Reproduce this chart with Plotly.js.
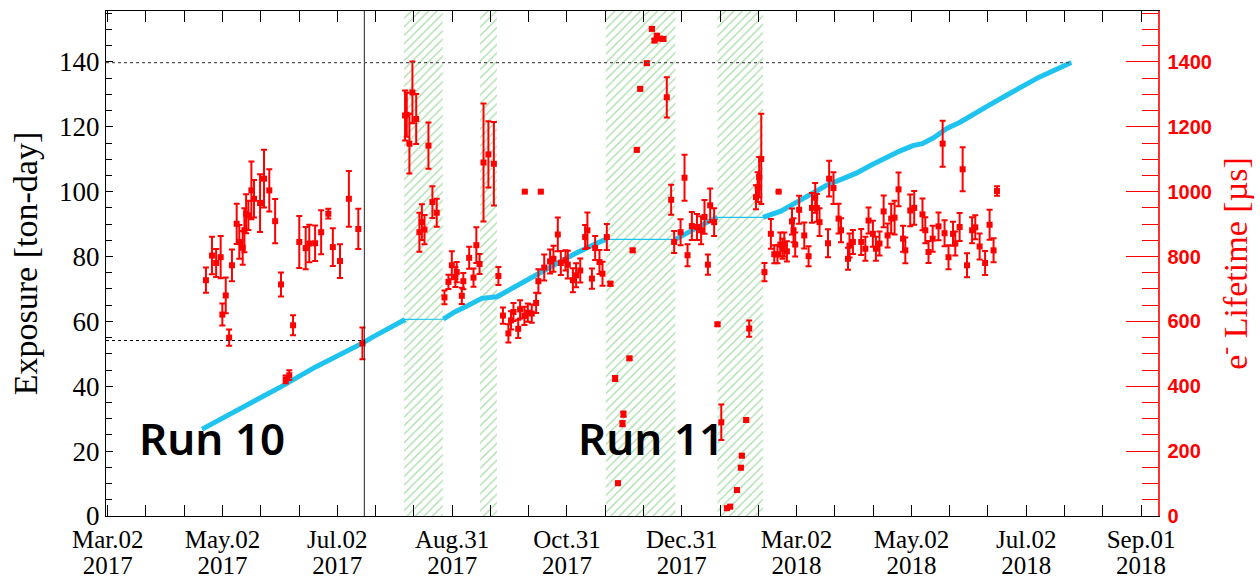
<!DOCTYPE html>
<html>
<head>
<meta charset="utf-8">
<script src="https://cdn.plot.ly/plotly-3.0.1.min.js"></script>
<style>
  html, body { margin: 0; padding: 0; background: #fff; }
  #chart { width: 1260px; height: 583px; }
</style>
</head>
<body>
<div id="chart"></div>
<script>
// Day numbers are counted from 2017-03-02 (day 0).
const ORIGIN_UTC = Date.UTC(2017, 2, 2);

// Time-axis labels: date line and year line, one tick every 548/9 days.
const xTickDates = ["Mar.02", "May.02", "Jul.02", "Aug.31", "Oct.31", "Dec.31", "Mar.02", "May.02", "Jul.02", "Sep.01"];
const xTickYears = ["2017", "2017", "2017", "2017", "2017", "2017", "2018", "2018", "2018", "2018"];
const xTickStepDays = 548 / 9;
const xRangeDays = [-0.9, 557.0];

// Periods with degraded purity (hatched bands), [start, end] day numbers.
const bandStart = [157.2, 197.5, 264.2, 323.4];
const bandEnd   = [177.7, 206.4, 301.1, 347.5];

// Run boundary and exposure reference levels.
const runBoundaryDay = 136.1;
const run10Exposure = 54.1;
const totalExposure = 139.8;
const finalExposureDay = 511.0;

// Cumulative exposure [ton-day].
const expDay = [
  50.1, 56, 62, 68, 74, 80, 86, 92, 98, 104, 110, 116, 122, 128, 135.1, 140, 146, 152, 157.7,
  178.0, 184, 190, 195, 198.4,
  206.5, 212, 218, 224, 230, 236, 242, 248, 254, 259, 264.2,
  301.1, 306, 311, 317, 323.4,
  347.5, 357, 365, 374, 381, 390, 397, 405, 413, 420, 427, 432, 438, 445, 452, 458, 463,
  470, 476, 481, 488, 494, 500, 505, 511
];
const expVal = [
  26.8, 28.6, 30.5, 32.4, 34.3, 36.1, 38.0, 39.9, 41.9, 44.0, 45.9, 47.6, 49.3, 51.2, 53.3, 55.0, 57.0, 58.6, 60.6,
  60.7, 62.9, 64.6, 66.3, 67.1,
  67.6, 69.4, 71.6, 73.5, 75.5, 77.3, 79.1, 80.9, 82.7, 84.0, 85.3,
  85.3, 86.9, 88.6, 90.3, 92.1,
  92.1, 94.0, 96.6, 99.5, 101.9, 104.0, 105.7, 108.2, 110.6, 112.5, 114.2, 114.8, 116.6, 119.5, 121.4, 123.3, 125.2,
  127.5, 129.5, 131.3, 133.4, 135.3, 137.0, 138.3, 139.8
];

// Electron lifetime [us] and its uncertainty.
const ltDay = [
  52.1, 55.3, 57.5, 59.9, 60.8, 62.6, 64.4, 65.9, 68.4, 69.8, 71.6, 72.5, 73.4, 74.6, 76.2, 77.6, 80.8, 82.9, 85.7, 88.8,
  91.9, 94.4, 96.3, 98.3, 101.6, 105.0, 106.9, 110.0, 113.2, 117.0, 119.4, 123.2, 127.9, 132.9, 135.1,
  157.7, 158.6, 160.0, 161.6, 163.6, 170.1, 165.3, 166.6, 168.0, 172.2, 174.5,
  178.6, 180.7, 182.5, 184.4, 185.1, 187.8, 188.6, 191.7, 194.0, 195.5, 197.2,
  199.3, 201.9, 204.8,
  207.2, 209.6, 212.5, 213.9, 215.2, 217.7, 218.7, 221.0, 222.8, 224.9, 227.2, 228.4, 221.2, 229.7,
  231.5, 234.6, 236.4, 238.7, 240.3, 242.8, 244.0, 246.7, 248.4, 250.6, 253.2, 254.4, 256.8, 258.5, 260.8, 262.4, 264.7,
  266.6, 269.1, 270.6, 273.0, 273.5, 276.7, 278.4, 280.6, 282.4, 285.9, 288.6, 290.0, 291.2, 293.0, 294.7, 296.5, 298.8, 300.4,
  303.8, 305.9, 307.5, 309.8, 312.5, 314.7, 316.5, 318.3, 319.5, 321.6,
  323.4, 325.4, 328.4, 330.1, 333.7, 335.8, 336.3, 338.6, 340.2, 343.8, 344.7, 345.5, 346.6,
  348.3, 351.7, 353.5, 355.2, 355.8, 356.7, 357.9, 358.8, 360.2, 362.9, 363.7, 364.6, 366.7, 369.4, 371.7, 373.5, 375.2,
  376.1, 377.5, 382.0, 382.6, 384.9, 387.6, 388.9, 392.6, 393.4, 395.2, 399.6, 401.8, 403.5, 405.8, 407.4, 409.3, 411.5,
  413.6, 415.5, 417.3, 419.4, 421.8, 423.0, 425.6, 427.7, 432.1, 433.6, 435.3, 437.5, 440.6, 442.8, 443.8, 445.9, 448.3,
  449.5, 451.8, 453.4, 455.7, 458.4, 460.1, 462.4, 465.3, 467.7, 469.8, 471.6
];
const ltVal = [
  727, 803, 780, 798, 621, 680, 550, 773, 901, 845, 827, 881, 932, 927, 1004, 978, 965, 1040, 1004, 909,
  714, 421, 434, 588, 845, 826, 840, 841, 875, 932, 829, 786, 978, 885, 532,
  1235, 1237, 1148, 1306, 1224, 1142, 875, 906, 883, 968, 935,
  674, 722, 773, 737, 752, 679, 724, 796, 735, 835, 777,
  1090, 1115, 1086,
  740, 618, 563, 603, 629, 577, 637, 617, 627, 624, 657, 724, 1000, 1000,
  766, 785, 793, 868, 780, 788, 775, 727, 742, 757, 860, 881, 732, 826, 783, 747, 860,
  716, 424, 101, 285, 314, 486, 819, 1129, 1317, 1396, 1502, 1466, 1481, 1472, 1471, 1291, 975, 845,
  875, 1043, 804, 894, 891, 881, 922, 775, 958, 906,
  591, 289, 24, 29, 80, 149, 186, 296, 578, 983, 1014, 1045, 1101,
  752, 870, 807, 807, 1000, 837, 824, 837, 816, 908, 881, 837, 944, 865, 801, 950, 981,
  950, 906, 841, 1040, 1011, 917, 881, 793, 834, 845, 845, 824, 911, 870, 824, 840, 939,
  865, 917, 920, 1007, 855, 819, 942, 950, 930, 881, 814, 855, 893, 1148, 872, 798, 870,
  840, 891, 1069, 773, 881, 890, 831, 780, 898, 819, 1002
];
const ltErr = [
  39, 58, 43, 65, 34, 55, 25, 49, 62, 52, 52, 68, 60, 45, 89, 58, 89, 89, 65, 68,
  37, 12, 15, 31, 80, 65, 58, 55, 68, 15, 58, 52, 86, 62, 49,
  77, 68, 92, 95, 77, 71, 60, 55, 45, 49, 43,
  21, 22, 43, 31, 31, 25, 25, 34, 28, 55, 31,
  182, 102, 129,
  28, 25, 28, 28, 28, 28, 28, 28, 28, 28, 31, 37, 0, 0,
  40, 37, 40, 52, 37, 31, 43, 37, 37, 37, 37, 55, 31, 37, 37, 37, 40,
  6, 8, 5, 8, 8, 5, 5, 5, 5, 5, 5, 5, 5, 5, 5, 62, 46, 34,
  40, 71, 34, 43, 40, 43, 52, 31, 52, 43,
  5, 55, 5, 5, 5, 5, 5, 5, 25, 37, 46, 62, 139,
  28, 46, 28, 28, 0, 37, 31, 37, 31, 40, 37, 37, 43, 40, 31, 46, 46,
  43, 43, 43, 55, 49, 46, 37, 34, 37, 37, 40, 37, 40, 40, 37, 37, 49,
  37, 46, 52, 52, 40, 40, 49, 52, 49, 40, 34, 40, 43, 71, 40, 37, 37,
  37, 43, 68, 37, 40, 37, 40, 37, 46, 37, 15
];

// Text labels placed inside the frame.
const runLabels = ["Run 10", "Run 11"];
const runLabelPos = [[0.1008, 0.1545], [0.518, 0.1545]];

function toDate(d) {
  return new Date(ORIGIN_UTC + d * 86400000).toISOString().replace("T", " ").replace("Z", "");
}

// Thick exposure band: break the stroke where data taking paused.
const thickX = [], thickY = [];
for (let i = 0; i < expDay.length; i++) {
  if (i > 0 && expDay[i] - expDay[i - 1] > 10) { thickX.push(null); thickY.push(null); }
  thickX.push(toDate(expDay[i])); thickY.push(expVal[i]);
}

const majorTicks = xTickDates.map((_, k) => toDate(k * xTickStepDays));
const minorTicks = [];
for (let k = -1; k <= 9; k++) {
  for (let j = 1; j <= 2; j++) {
    const d = (k + j / 3) * xTickStepDays;
    if (d >= xRangeDays[0] && d <= xRangeDays[1]) minorTicks.push(toDate(d));
  }
}
const xRange = [toDate(xRangeDays[0]), toDate(xRangeDays[1])];

const SERIF = "Liberation Serif, Times New Roman, serif";

const traces = [
  {
    type: "bar",
    x: bandStart.map((s, i) => toDate((s + bandEnd[i]) / 2)),
    width: bandStart.map((s, i) => (bandEnd[i] - s) * 86400000),
    y: bandStart.map(() => 200),
    base: 0,
    marker: {
      color: "rgba(0,0,0,0)",
      line: { width: 0 },
      pattern: { shape: "/", fgcolor: "#49b849", bgcolor: "rgba(255,255,255,0)", size: 6, solidity: 0.2, fillmode: "overlay" }
    },
    hoverinfo: "skip",
    showlegend: false
  },
  {
    type: "scatter", mode: "lines",
    x: expDay.map(toDate), y: expVal,
    line: { color: "#1ec4ef", width: 1.2 },
    hoverinfo: "skip", showlegend: false
  },
  {
    type: "scatter", mode: "lines",
    x: thickX, y: thickY, connectgaps: false,
    line: { color: "#1ec4ef", width: 5 },
    showlegend: false
  },
  {
    type: "scatter", mode: "markers",
    x: ltDay.map(toDate), y: ltVal, yaxis: "y2",
    marker: { symbol: "square", size: 6, color: "#ff0000" },
    error_y: { type: "data", array: ltErr, visible: true, color: "#ff0000", thickness: 2, width: 3 },
    showlegend: false
  },
  // carries the year row of the time axis
  { type: "scatter", mode: "markers", x: [], y: [], xaxis: "x2", showlegend: false, hoverinfo: "skip" }
];

const layout = {
  width: 1260, height: 583,
  margin: { l: 106, r: 102, t: 11, b: 67 },
  paper_bgcolor: "#ffffff", plot_bgcolor: "#ffffff",
  showlegend: false,
  barmode: "overlay",
  font: { family: SERIF, color: "#000" },
  xaxis: {
    type: "date",
    range: xRange,
    tickmode: "array", tickvals: majorTicks, ticktext: xTickDates,
    ticks: "inside", ticklen: 11, tickwidth: 1, tickcolor: "#000",
    minor: { tickmode: "array", tickvals: minorTicks, ticks: "inside", ticklen: 6, tickwidth: 1, tickcolor: "#000" },
    showline: true, linecolor: "#000", linewidth: 1, mirror: "allticks",
    showgrid: false, zeroline: false,
    ticklabelstandoff: 1,
    tickfont: { family: SERIF, size: 25, color: "#000" }
  },
  xaxis2: {
    type: "date", overlaying: "x", anchor: "y", side: "bottom",
    range: xRange,
    tickmode: "array", tickvals: majorTicks, ticktext: xTickYears,
    ticks: "", showline: false, showgrid: false, zeroline: false,
    ticklabelstandoff: 32,
    tickfont: { family: SERIF, size: 25, color: "#000" }
  },
  yaxis: {
    range: [0, 155.7],
    tickmode: "array", tickvals: [0, 20, 40, 60, 80, 100, 120, 140],
    ticks: "inside", ticklen: 7, tickwidth: 1, tickcolor: "#000",
    minor: { dtick: 5, ticks: "inside", ticklen: 6, tickwidth: 1, tickcolor: "#000" },
    showline: true, linecolor: "#000", linewidth: 1,
    showgrid: false, zeroline: false,
    tickfont: { family: SERIF, size: 27, color: "#000" },
    title: { text: "Exposure [ton-day]", font: { family: SERIF, size: 34, color: "#000" }, standoff: 11 }
  },
  yaxis2: {
    overlaying: "y", side: "right",
    range: [0, 1557],
    tickmode: "array", tickvals: [0, 200, 400, 600, 800, 1000, 1200, 1400],
    ticks: "inside", ticklen: 32, tickwidth: 1, tickcolor: "#ff0000",
    minor: { dtick: 50, ticks: "inside", ticklen: 16, tickwidth: 1, tickcolor: "#ff0000" },
    showline: true, linecolor: "#ff3030", linewidth: 1.5,
    showgrid: false, zeroline: false,
    tickfont: { family: "Liberation Sans, Arial, sans-serif", size: 20, color: "#ff0000", weight: "bold" },
    ticklabelstandoff: 4,
    title: { text: "e<sup>-</sup> Lifetime [µs]", font: { family: SERIF, size: 34, color: "#ff0000" }, standoff: 10 }
  },
  shapes: [
    { type: "line", xref: "x", yref: "paper", x0: toDate(runBoundaryDay), x1: toDate(runBoundaryDay), y0: 0, y1: 1,
      line: { color: "#222", width: 1 }, layer: "above" },
    { type: "line", xref: "x", yref: "y", x0: xRange[0], x1: toDate(finalExposureDay), y0: totalExposure, y1: totalExposure,
      line: { color: "#555", width: 1.2, dash: "3px,3px" }, layer: "above" },
    { type: "line", xref: "x", yref: "y", x0: xRange[0], x1: toDate(runBoundaryDay), y0: run10Exposure, y1: run10Exposure,
      line: { color: "#000", width: 1, dash: "3px,3px" }, layer: "above" }
  ],
  annotations: runLabels.map((t, i) => ({
    text: t, xref: "paper", yref: "paper", x: runLabelPos[i][0], y: runLabelPos[i][1],
    xanchor: "center", yanchor: "middle", showarrow: false,
    font: { family: "Noto Sans, Open Sans, sans-serif", size: 44, color: "#000", weight: 600 }
  }))
};

Plotly.newPlot("chart", traces, layout, { displayModeBar: false, staticPlot: true });
</script>
</body>
</html>
